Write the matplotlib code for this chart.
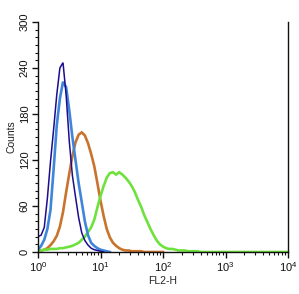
import numpy as np
import matplotlib
matplotlib.use("Agg")
import matplotlib.pyplot as plt
from matplotlib.ticker import LogLocator, MultipleLocator

plt.rcParams['font.family'] = ['Liberation Sans', 'DejaVu Sans']
plt.rcParams['mathtext.fontset'] = 'custom'
plt.rcParams['mathtext.rm'] = 'Liberation Sans'

# histogram channel positions (log10 of FL2-H), step 0.05 decade
bin_log10 = np.round(np.arange(0, 4.0001, 0.05), 2)

navy_counts = [20, 22, 32, 70, 118, 160, 205, 240, 247, 205, 145, 100, 72, 45, 25,
               15, 9, 5, 3, 2, 1, 0]
blue_counts = [3, 8, 16, 30, 55, 108, 165, 200, 222, 215, 185, 150, 120, 90, 65,
               40, 22, 12, 8, 5, 3, 2, 1, 0]
orange_counts = [1, 2, 3, 5, 9, 14, 21, 33, 52, 78, 102, 125, 143, 153, 156, 152,
                 142, 128, 112, 90, 67, 47, 30, 19, 12, 8, 5, 3, 2, 2, 1, 1, 1, 1,
                 0, 0, 0, 0, 0, 0, 0]
green_counts = [1, 2, 3, 3, 4, 4, 4, 5, 5, 6, 7, 8, 10, 12, 16, 20, 26, 32, 42, 58,
                73, 86, 97, 103, 104, 101, 104, 101, 97, 92, 86, 78, 68, 59, 48, 39,
                30, 22, 15, 10, 7, 5, 4, 4, 3, 2, 2, 2, 1, 1, 1, 1, 0]
# green stays at zero counts up to the top channel
green_counts = green_counts + [0] * (len(bin_log10) - len(green_counts))

x_tick_exp = [0, 1, 2, 3, 4]
y_ticks = [0, 60, 120, 180, 240, 300]

fig = plt.figure(figsize=(2.99, 2.94), dpi=100)
ax = fig.add_axes([38 / 299, 1 - 252 / 294, 250 / 299, 230 / 294])

series = [
    (orange_counts, '#c9742c', 1.9),
    (green_counts, '#6ee23c', 1.9),
    (blue_counts, '#3f86db', 1.9),
    (navy_counts, '#1c0c8e', 1.1),
]
for counts, color, lw in series:
    xs = 10 ** bin_log10[:len(counts)]
    ax.plot(xs, counts, color=color, lw=lw, solid_joinstyle='miter')

ax.set_xscale('log')
ax.set_xlim(1, 1e4)
ax.set_ylim(0, 300)
ax.set_xticks([10 ** e for e in x_tick_exp])
ax.set_xticklabels([r'$10^{%d}$' % e for e in x_tick_exp])
ax.xaxis.set_minor_locator(LogLocator(base=10, subs=np.arange(2, 10)))
ax.xaxis.set_minor_formatter(plt.NullFormatter())
ax.set_yticks(y_ticks)
ax.set_yticklabels([str(v) for v in y_ticks], rotation=90, va='center')
ax.yaxis.set_minor_locator(MultipleLocator(10))

ax.spines['top'].set_visible(False)
for s in ['left', 'right', 'bottom']:
    ax.spines[s].set_linewidth(1.0)
    ax.spines[s].set_color('#111111')

ax.tick_params(which='major', direction='out', length=4, width=1, labelsize=8,
               colors='#111111', pad=2)
ax.tick_params(which='minor', direction='out', length=2.5, width=0.8, colors='#111111')
ax.tick_params(axis='y', which='both', right=False)

ax.set_xlabel('FL2-H', fontsize=7.5, labelpad=1, color='#222222')
ax.set_ylabel('Counts', fontsize=7.5, labelpad=2, color='#222222')

fig.savefig('out.png', dpi=100)
